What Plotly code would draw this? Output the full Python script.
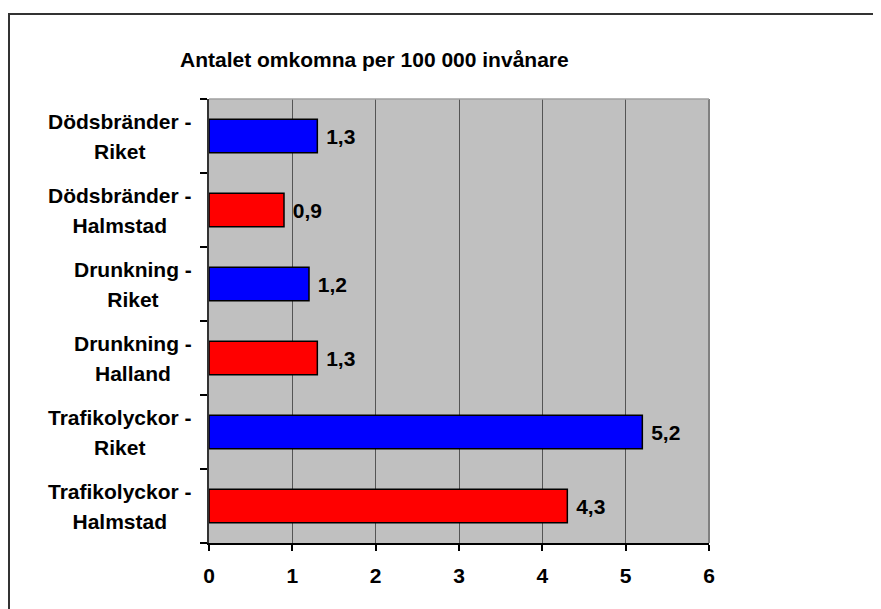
import plotly.graph_objects as go

categories = [
    "Dödsbränder - Riket",
    "Dödsbränder - Halmstad",
    "Drunkning - Riket",
    "Drunkning - Halland",
    "Trafikolyckor - Riket",
    "Trafikolyckor - Halmstad",
]
values = [1.3, 0.9, 1.2, 1.3, 5.2, 4.3]
bar_colors = ["#0000FF", "#FF0000", "#0000FF", "#FF0000", "#0000FF", "#FF0000"]
title_text = "Antalet omkomna per 100 000 invånare"
x_ticks = [0, 1, 2, 3, 4, 5, 6]

OFF = 8  # page body margin
W, H = 881 - OFF, 609 - OFF
L, R, T, B = 209 - OFF, 709 - OFF, 99 - OFF, 543 - OFF
FONT = "Liberation Sans, Arial, sans-serif"
FS = 21


def px_x(p):
    return (p - OFF - L) / (R - L)


def px_y(p):
    return (B - (p - OFF)) / (B - T)


fig = go.Figure()
fig.add_trace(go.Bar(
    y=categories,
    x=values,
    orientation="h",
    width=0.45,
    marker=dict(color=bar_colors, line=dict(color="#000000", width=1.5)),
    text=[" " + f"{v:.1f}".replace(".", ",") for v in values],
    textposition="outside",
    cliponaxis=False,
    textfont=dict(family=FONT, size=FS, color="#000000", weight="bold"),
    hoverinfo="skip",
))

annotations = []
for c in categories:
    first, second = c.split(" - ")
    annotations.append(dict(
        x=px_x(194), xref="paper", y=c, yref="y",
        text=(f'<span style="font-size:{FS}px">{first} -</span><br>'
              f'<span style="font-size:{FS}px">{second}</span>'),
        showarrow=False,
        xanchor="right", yanchor="middle", align="center",
        font=dict(family=FONT, size=23, color="#000000", weight="bold"),
    ))

annotations.append(dict(
    x=px_x(374), xref="paper", y=px_y(60), yref="paper",
    text=title_text, showarrow=False, xanchor="center", yanchor="middle",
    font=dict(family=FONT, size=FS, color="#000000", weight="bold"),
))

shapes = [
    dict(type="rect", xref="paper", yref="paper",
         x0=px_x(9), x1=px_x(900), y0=px_y(14), y1=px_y(640),
         line=dict(color="#333333", width=2), fillcolor="rgba(0,0,0,0)", layer="above"),
    dict(type="line", xref="paper", yref="paper", x0=1, x1=1, y0=0, y1=1,
         line=dict(color="#808080", width=2), layer="above"),
    dict(type="line", xref="paper", yref="paper", x0=0, x1=1, y0=1, y1=1,
         line=dict(color="#a0a0a0", width=1.5), layer="above"),
]

fig.update_layout(
    width=W, height=H,
    margin=dict(l=L, r=W - R, t=T, b=H - B, pad=0),
    paper_bgcolor="#FFFFFF",
    plot_bgcolor="#C0C0C0",
    showlegend=False,
    annotations=annotations,
    shapes=shapes,
    xaxis=dict(
        range=[0, 6], tickvals=x_ticks, ticktext=[str(t) for t in x_ticks],
        showgrid=True, gridcolor="#555555", gridwidth=1,
        zeroline=False,
        showline=True, linecolor="#000000", linewidth=1.5,
        ticks="outside", ticklen=6, tickcolor="#000000", tickwidth=1.5,
        ticklabelstandoff=7,
        tickfont=dict(family=FONT, size=FS, color="#000000", weight="bold"),
        fixedrange=True,
    ),
    yaxis=dict(
        categoryorder="array", categoryarray=categories[::-1],
        showticklabels=False,
        showgrid=False, zeroline=False,
        showline=True, linecolor="#333333", linewidth=1.5,
        ticks="outside", tickson="boundaries", ticklen=7,
        tickcolor="#000000", tickwidth=1.5,
        fixedrange=True,
    ),
)

fig.write_html("out.html")
